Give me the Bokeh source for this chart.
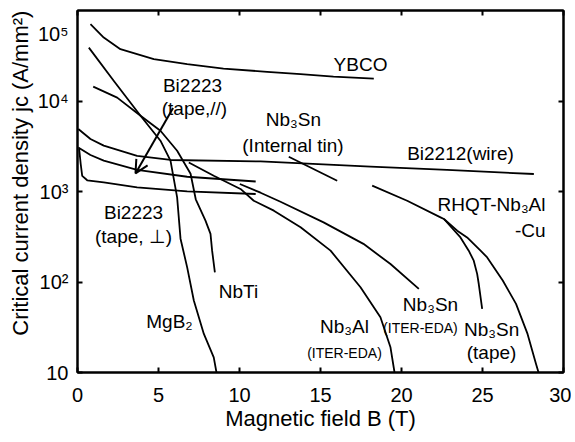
import math
from bokeh.plotting import figure
from bokeh.models import Range1d, FixedTicker, LinearAxis, LogAxis, Label, Arrow, OpenHead
from bokeh.embed import file_html
from bokeh.resources import INLINE

FONT = "Liberation Sans"

# ---- data: magnetic field B (T) and critical current density Jc (A/mm^2) ----
ybco_B = [0.80, 1.62, 2.65, 4.71, 6.77, 9.01, 11.71, 13.77, 15.80, 18.29]
ybco_J = [70600, 50200, 37400, 29000, 25500, 22800, 21000, 19800, 18600, 17700]

mgb2_B = [0.70, 2.28, 3.89, 5.12, 5.74, 6.15, 6.36, 6.77, 7.18, 7.80, 8.41, 8.58]
mgb2_J = [38900, 16300, 6870, 3640, 2190, 861, 301, 145, 62.4, 26.7, 14.7, 10]

nbti_B = [0.97, 2.45, 3.89, 5.12, 6.15, 6.98, 7.30, 7.90, 8.21, 8.31, 8.48]
nbti_J = [14400, 10900, 6870, 4690, 2820, 1570, 820, 476, 340, 222, 128]

bi2212_B = [0.05, 0.80, 1.62, 3.68, 5.74, 11.3, 18.09, 22.82, 28.17]
bi2212_J = [4900, 3800, 3210, 2480, 2230, 2150, 1880, 1730, 1560]

bi2223_par_B = [0.05, 0.80, 1.62, 3.68, 6.77, 11.0]
bi2223_par_J = [3070, 2530, 2190, 1730, 1456, 1290]

bi2223_perp_B = [0.10, 0.20, 0.29, 0.60, 1.62, 3.68, 6.77, 11.0]
bi2223_perp_J = [2970, 2000, 1490, 1330, 1260, 1110, 1003, 938]

nb3al_iter_B = [6.87, 8.41, 10.06, 10.88, 12.12, 13.77, 15.62, 17.47, 18.70, 19.32, 19.57]
nb3al_iter_J = [2094, 1493, 1067, 791, 614, 402, 222, 87.5, 40.8, 19.0, 10]

nb3sn_iter_B = [10.02, 11.30, 12.53, 15.19, 17.65, 19.32, 21.07]
nb3sn_iter_J = [1210, 970, 771, 456, 264, 158, 83.9]

nb3sn_it_B = [13.04, 16.03]
nb3sn_it_J = [2420, 1315]

rhqt_B = [18.19, 20.35, 22.41, 22.62, 23.44, 24.05, 24.88, 25.29, 26.25, 27.07, 27.78, 28.30, 28.46]
rhqt_J = [1159, 791, 518, 497, 369, 311, 222, 187, 104, 57.3, 26.7, 12.5, 10]

nb3sn_tape_B = [22.62, 23.64, 24.15, 24.46, 24.67, 24.77, 24.98]
nb3sn_tape_J = [497, 311, 222, 172, 123, 95, 50.5]

arrow_B = [5.90, 3.58]
arrow_J = [8360, 1585]

x_ticks = [0, 5, 10, 15, 20, 25, 30]
y_ticks = [10, 100, 1000, 10000]
# tick-label positions on the left (the "10^5" label sits below the frame top, as in the original)
y_label_pos = [10, 100, 1000, 10000, 55000]
y_tick_labels = ["10", "10\u00b2", "10\u00b3", "10\u2074", "10\u2075"]

# annotation texts: (text, B, J, size, align)
annotations = [
    ("YBCO", 17.47, 25100, "19px", "center"),
    ("Bi2223", 7.10, 14700, "19px", "center"),
    ("(tape,//)", 7.22, 8200, "19px", "center"),
    ("Nb\u2083Sn", 13.33, 6190, "19px", "center"),
    ("(Internal tin)", 13.30, 3210, "19px", "center"),
    ("Bi2212(wire)", 23.64, 2610, "19px", "center"),
    ("RHQT-Nb\u2083Al", 28.89, 715, "19px", "right"),
    ("-Cu", 28.89, 369, "19px", "right"),
    ("Bi2223", 3.46, 583, "19px", "center"),
    ("(tape, \u22a5)", 3.46, 317, "19px", "center"),
    ("NbTi", 9.94, 78.3, "19px", "center"),
    ("MgB\u2082", 5.68, 36.5, "19px", "center"),
    ("Nb\u2083Al", 16.48, 32.2, "19px", "center"),
    ("(ITER-EDA)", 16.48, 16.6, "14px", "center"),
    ("Nb\u2083Sn", 21.79, 56.4, "19px", "center"),
    ("(ITER-EDA)", 21.17, 31.4, "14px", "center"),
    ("Nb\u2083Sn", 25.56, 29.9, "19px", "center"),
    ("(tape)", 25.56, 16.6, "19px", "center"),
]

p = figure(frame_width=486, frame_height=362,
           x_range=Range1d(0, 30), y_range=Range1d(10, 1e5),
           y_axis_type="log", output_backend="svg", toolbar_location=None,
           min_border_left=77, min_border_right=8, min_border_top=10, min_border_bottom=68,
           background_fill_color="white", border_fill_color="white",
           outline_line_color="black", outline_line_width=2)
p.grid.visible = False


def style_axis(ax, ticks, labels=True, overrides=None):
    ax.ticker = FixedTicker(ticks=ticks, minor_ticks=[])
    ax.major_tick_in = 5
    ax.major_tick_out = 0
    ax.minor_tick_line_color = None
    ax.major_tick_line_width = 2
    ax.major_tick_line_color = "black"
    ax.axis_line_width = 2
    ax.axis_line_color = "black"
    ax.major_label_text_font = FONT
    ax.major_label_text_font_size = "20px"
    ax.major_label_text_color = "black"
    if not labels:
        ax.major_label_overrides = {t: "" for t in ticks}
        ax.major_label_standoff = 0
    elif overrides:
        ax.major_label_overrides = overrides


xax = p.xaxis[0]
style_axis(xax, x_ticks)
xax.major_label_standoff = 15
xax.axis_label = "Magnetic field B (T)"
xax.axis_label_text_font = FONT
xax.axis_label_text_font_size = "22px"
xax.axis_label_text_font_style = "normal"
xax.axis_label_text_color = "black"
xax.axis_label_standoff = 1

# left: tick marks only (inner)
yax = p.yaxis[0]
style_axis(yax, y_ticks, labels=False)

# left: labels only (no marks), plus the y title
ylab_ax = LogAxis()
style_axis(ylab_ax, y_label_pos,
           overrides={t: l for t, l in zip(y_label_pos, y_tick_labels)})
ylab_ax.major_tick_line_color = None
ylab_ax.major_tick_in = 0
ylab_ax.axis_line_color = None
ylab_ax.major_label_standoff = 9
ylab_ax.axis_label = "\u00a0" * 6 + "Critical current density jc (A/mm\u00b2)"
ylab_ax.axis_label_text_font = FONT
ylab_ax.axis_label_text_font_size = "22px"
ylab_ax.axis_label_text_font_style = "normal"
ylab_ax.axis_label_text_color = "black"
ylab_ax.axis_label_standoff = 2
p.add_layout(ylab_ax, "left")

top = LinearAxis()
style_axis(top, x_ticks, labels=False)
p.add_layout(top, "above")
right = LogAxis()
style_axis(right, y_ticks, labels=False)
p.add_layout(right, "right")

curves = [(ybco_B, ybco_J), (mgb2_B, mgb2_J), (nbti_B, nbti_J), (bi2212_B, bi2212_J),
          (bi2223_par_B, bi2223_par_J), (bi2223_perp_B, bi2223_perp_J),
          (nb3al_iter_B, nb3al_iter_J), (nb3sn_iter_B, nb3sn_iter_J),
          (nb3sn_it_B, nb3sn_it_J), (rhqt_B, rhqt_J), (nb3sn_tape_B, nb3sn_tape_J)]
for bx, jy in curves:
    p.line(bx, jy, line_color="black", line_width=1.8, line_join="round")

p.add_layout(Arrow(end=OpenHead(size=13, line_width=2, line_color="black"),
                   x_start=arrow_B[0], y_start=arrow_J[0],
                   x_end=arrow_B[1], y_end=arrow_J[1],
                   line_width=2, line_color="black"))

for txt, bx, jy, size, align in annotations:
    p.add_layout(Label(x=bx, y=jy, text=txt, text_font=FONT, text_font_size=size,
                       text_align=align, text_baseline="middle", text_color="black"))

open("out.html", "w").write(file_html(p, INLINE))
